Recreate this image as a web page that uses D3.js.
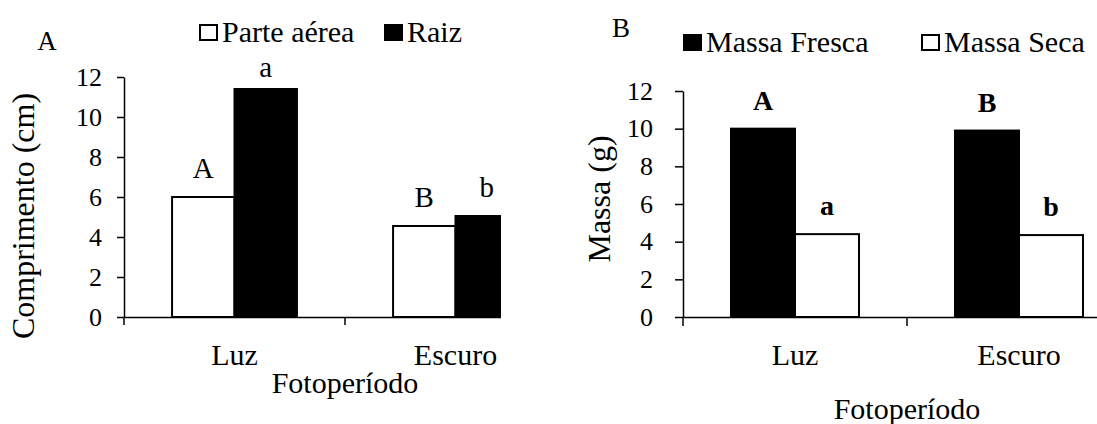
<!DOCTYPE html>
<meta charset="utf-8">
<head>
<script src="https://d3js.org/d3.v7.min.js"></script>
<style>
  body { margin: 0; background: #fff; }
</style>
</head>
<body>
<script>
// data
var categories = ["Luz", "Escuro"];
var yTicks = [0, 2, 4, 6, 8, 10, 12];

// panel A - comprimento (cm)
var seriesA = ["Parte aérea", "Raiz"];
var parteAerea = [6.0, 4.55];
var raiz = [11.4, 5.05];
var lettersParte = ["A", "B"];
var lettersRaiz = ["a", "b"];

// panel B - massa (g)
var seriesB = ["Massa Fresca", "Massa Seca"];
var massaFresca = [10.0, 9.9];
var massaSeca = [4.4, 4.35];
var lettersFresca = ["A", "B"];
var lettersSeca = ["a", "b"];

var width = 1097, height = 424;
var serif = "Liberation Serif";

var svg = d3.select("body").append("svg")
  .attr("width", width)
  .attr("height", height);

function drawPanel(p) {
  var g = svg.append("g");
  if (p.clip) {
    svg.append("clipPath").attr("id", p.id + "-clip")
      .append("rect").attr("x", 0).attr("y", 0).attr("width", p.clip).attr("height", height);
    g.attr("clip-path", "url(#" + p.id + "-clip)");
  }

  var x0 = d3.scaleBand().domain(categories).range([p.left, p.left + 2 * p.band]);
  var x1 = d3.scaleBand().domain(p.series).range([0, x0.bandwidth()]).paddingOuter(p.pad);
  var y = d3.scaleLinear().domain([0, 12]).range([p.bottom, p.top]);

  // bars
  var rows = categories.map(function(c, i) {
    return p.series.map(function(s, j) {
      return { cat: c, s: s, v: p.values[j][i], label: p.letters[j][i], fill: p.fills[j] };
    });
  });
  var grp = g.selectAll(".grp").data(rows).join("g")
    .attr("transform", function(d) { return "translate(" + x0(d[0].cat) + ",0)"; });

  grp.selectAll("rect").data(function(d) { return d; }).join("rect")
    .attr("x", function(d) { return x1(d.s); })
    .attr("y", function(d) { return y(d.v); })
    .attr("width", x1.bandwidth())
    .attr("height", function(d) { return y(0) - y(d.v); })
    .attr("fill", function(d) { return d.fill; })
    .attr("stroke", "#000")
    .attr("stroke-width", 2);

  grp.selectAll("text").data(function(d) { return d; }).join("text")
    .attr("x", function(d) { return x1(d.s) + x1.bandwidth() / 2; })
    .attr("y", function(d) { return Math.max(y(d.v) - 19, y(12)); })
    .attr("text-anchor", "middle")
    .style("font-family", serif)
    .style("font-size", p.bold ? "28px" : "29px")
    .style("font-weight", p.bold ? "bold" : "normal")
    .text(function(d) { return d.label; });

  // y axis
  var ya = g.append("g")
    .attr("transform", "translate(" + p.left + ",0)")
    .call(d3.axisLeft(y).tickValues(yTicks).tickSize(p.ytick).tickSizeOuter(0).tickPadding(p.ypad));
  ya.selectAll("path, line").attr("stroke", "#000").attr("stroke-width", 1.5);
  ya.selectAll("text").style("font-family", serif).style("font-size", "26px").attr("fill", "#000");

  // x axis
  var xa = g.append("g")
    .attr("transform", "translate(0," + p.bottom + ")")
    .call(d3.axisBottom(x0).tickSize(0).tickSizeOuter(0));
  xa.select(".domain").attr("stroke", "#000").attr("stroke-width", 1.5);
  xa.selectAll("text").style("font-family", serif).style("font-size", "30px").attr("fill", "#000")
    .attr("dy", null).attr("y", 48);
  xa.selectAll(".bound").data(categories).join("line")
    .attr("class", "bound")
    .attr("x1", function(d) { return x0(d); })
    .attr("x2", function(d) { return x0(d); })
    .attr("y1", 0).attr("y2", p.xtick)
    .attr("stroke", "#000").attr("stroke-width", 1.5);

  // titles
  g.append("text")
    .attr("x", p.left + x0.bandwidth()).attr("y", p.xtitleY)
    .attr("text-anchor", "middle")
    .style("font-family", serif).style("font-size", "30px")
    .text("Fotoperíodo");

  g.append("text")
    .attr("transform", "translate(" + p.ytitleX + "," + p.ytitleY + ") rotate(-90)")
    .attr("text-anchor", "middle")
    .style("font-family", serif).style("font-size", "32px")
    .text(p.ytitle);

  g.append("text")
    .attr("x", p.tag[0]).attr("y", p.tag[1])
    .attr("text-anchor", "middle")
    .style("font-family", serif).style("font-size", "27px")
    .text(p.id);

  // legend
  var lg = g.selectAll(".leg").data(p.series).join("g")
    .attr("transform", function(d, i) { return "translate(" + p.legendX[i] + "," + p.legendY + ")"; });
  lg.append("rect")
    .attr("x", 1).attr("y", -17).attr("width", 17).attr("height", 15)
    .attr("fill", function(d, i) { return p.fills[i]; })
    .attr("stroke", "#000").attr("stroke-width", 2);
  lg.append("text")
    .attr("x", 23).attr("y", 0)
    .style("font-family", serif).style("font-size", "30px")
    .text(function(d) { return d; });
}

drawPanel({
  id: "A", left: 124, band: 221, pad: 0.77, bottom: 317, top: 77,
  series: seriesA, values: [parteAerea, raiz], letters: [lettersParte, lettersRaiz],
  fills: ["#fff", "#000"], bold: false,
  ytick: 7, ypad: 15, xtick: 8, clip: 501,
  xtitleY: 393, ytitle: "Comprimento (cm)", ytitleX: 34, ytitleY: 216,
  tag: [47, 50], legendX: [199, 384], legendY: 42
});

drawPanel({
  id: "B", left: 683, band: 224, pad: 0.75, bottom: 317, top: 91,
  series: seriesB, values: [massaFresca, massaSeca], letters: [lettersFresca, lettersSeca],
  fills: ["#000", "#fff"], bold: true,
  ytick: 8, ypad: 22, xtick: 9, clip: null,
  xtitleY: 419, ytitle: "Massa (g)", ytitleX: 610, ytitleY: 199,
  tag: [621, 37], legendX: [683, 921], legendY: 52
});
</script>
</body>
